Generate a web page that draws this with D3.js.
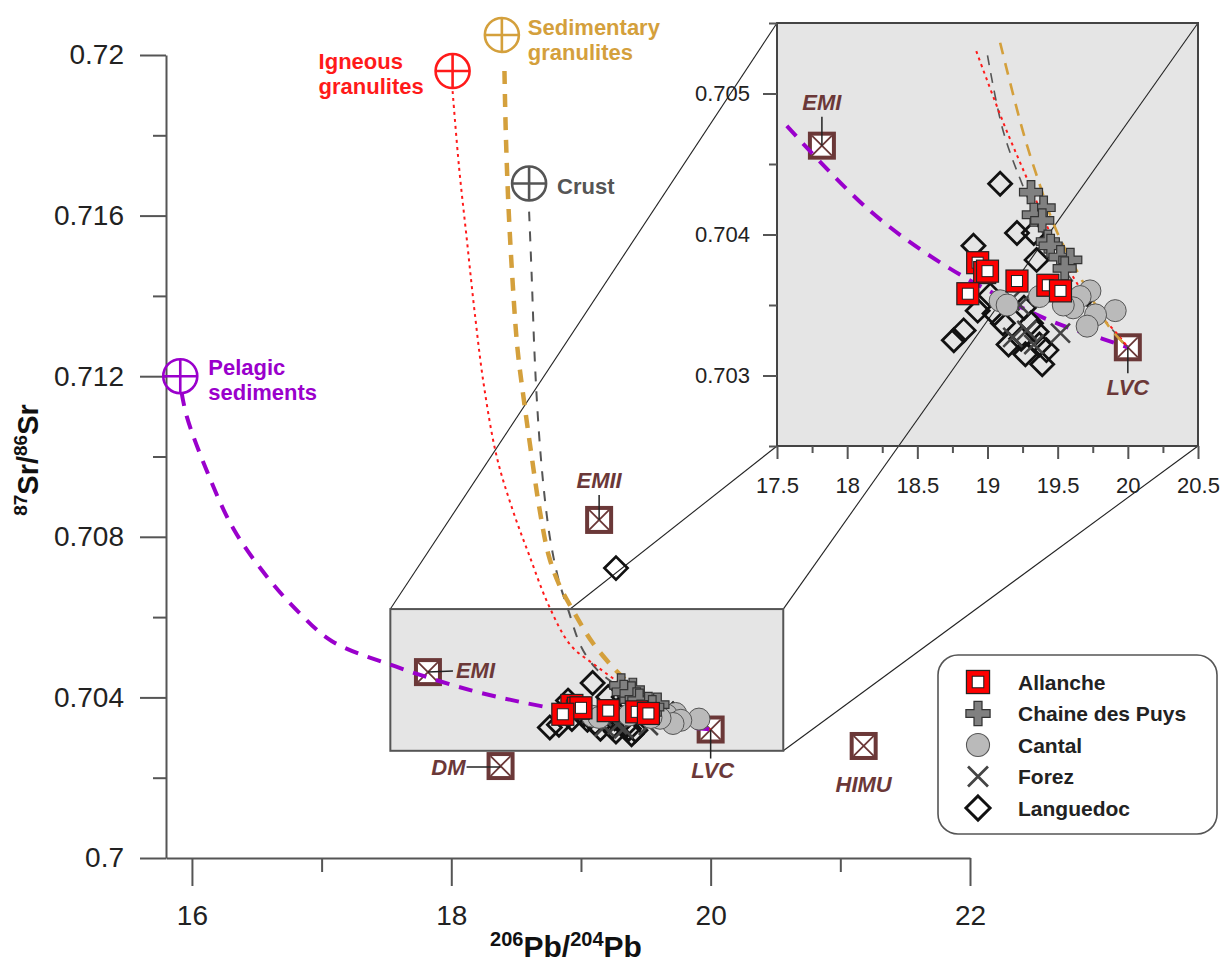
<!DOCTYPE html>
<html><head><meta charset="utf-8">
<script src="https://cdn.jsdelivr.net/npm/d3@7"></script>
<style>
body{margin:0;background:#fff}
text{font-family:"Liberation Sans",Arial,Helvetica,sans-serif}
</style>
</head><body><script>
// ---- data ----
// samples: [206Pb/204Pb, 87Sr/86Sr]
const allanche = [[18.93,0.7038],[18.98,0.70373],[19.0,0.70374],[18.86,0.70358],[19.21,0.70367],[19.43,0.70364],[19.52,0.7036]]
const chaine = [[19.31,0.7043],[19.40,0.70419],[19.33,0.70414],[19.39,0.7041],[19.43,0.70395],[19.45,0.70392],[19.52,0.70384],[19.59,0.70382],[19.55,0.70376]]
const cantal = [[19.73,0.7036],[19.66,0.70356],[19.91,0.70346],[19.77,0.70343],[19.71,0.70335],[19.61,0.70348],[19.54,0.7035],[19.37,0.70356],[19.09,0.70353],[19.14,0.7035]]
const forez = [[19.52,0.7033],[19.18,0.70327],[19.28,0.70332],[19.33,0.70322],[19.16,0.70353],[19.23,0.7035]]
const languedoc = [[19.09,0.70436],[19.21,0.70401],[19.33,0.70401],[19.35,0.70382],[18.90,0.70392],[18.76,0.70325],[18.83,0.70332],
	[18.93,0.70346],[19.02,0.70357],[19.11,0.70337],[19.05,0.70344],[19.15,0.70322],[19.24,0.70326],[19.27,0.70315],[19.31,0.70337],
	[19.39,0.70308],[19.37,0.70322],[19.42,0.70318],[19.26,0.70348],[19.35,0.70331],[19.71,0.70358],[19.27,0.70722]]

// mantle end-members
const endMembers = [["EMII",19.14,0.70842],["EMI",17.82,0.70463],["DM",18.38,0.70229],["LVC",20.0,0.7032],["HIMU",21.18,0.70279]]
// contaminant sources
const sources = [["Pelagic sediments",15.91,0.712],["Igneous granulites",18.01,0.7196],["Sedimentary granulites",18.39,0.7205],["Crust",18.6,0.7168]]

// mixing curves towards LVC
const pelagicCurve = [[15.92,0.7116],[15.96,0.7110],[16.12,0.7096],[16.32,0.7082],[16.58,0.7070],[16.83,0.7061],[17.08,0.7054],[17.57,0.70477],[18.16,0.70417],[18.73,0.70376],[19.42,0.7034],[19.82,0.70326],[20.0,0.7032]]
const igneousCurve = [[18.01,0.7191],[18.06,0.7172],[18.12,0.7154],[18.18,0.7136],[18.25,0.7118],[18.35,0.7100],[18.47,0.7087],[18.60,0.70755],[18.75,0.7063],[18.92,0.7053],[19.11,0.7048],[19.28,0.7044],[19.5,0.7039],[19.74,0.7035],[19.92,0.7033],[20.0,0.7032]]
const sedimentaryCurve = [[18.41,0.7196],[18.42,0.7181],[18.44,0.7163],[18.47,0.7145],[18.51,0.7127],[18.56,0.7114],[18.62,0.7100],[18.68,0.7087],[18.75,0.70755],[18.83,0.70682],[18.95,0.7061],[19.09,0.70536],[19.25,0.70474],[19.35,0.70442],[19.49,0.70403],[19.66,0.7037],[19.87,0.70334],[20.0,0.7032]]
const crustCurve = [[18.60,0.7161],[18.62,0.7145],[18.64,0.7127],[18.66,0.7114],[18.69,0.7100],[18.73,0.7087],[18.77,0.7078],[18.83,0.7069],[18.9,0.7062],[19.0,0.70527],[19.11,0.70474],[19.25,0.70435],[19.45,0.7039],[19.7,0.70355],[20.0,0.7032]]

// ticks
const xMajor = [16,18,20,22], xMinor = [17,19,21]
const yMajor = [0.7,0.704,0.708,0.712,0.716,0.72], yMinor = [0.702,0.706,0.71,0.714,0.718]
const ixMajor = [17.5,18,18.5,19,19.5,20,20.5], ixMinor = [17.75,18.25,18.75,19.25,19.75,20.25]
const iyMajor = [0.703,0.704,0.705], iyMinor = [0.7025,0.7035,0.7045,0.7055]
// zoomed area in the main plot [x0,x1,y0,y1]
const zoomBox = [17.53,20.56,0.70267,0.7062]
const legendNames = ["Allanche","Chaine des Puys","Cantal","Forez","Languedoc"]

// ---- layout ----
const width = 1223, height = 967
const brown = "#6b3838"
const srcColor = {"Pelagic sediments":"#9a00cc","Igneous granulites":"#ff1a1a","Sedimentary granulites":"#d4a03c","Crust":"#555"}

const x = d3.scaleLinear().domain([15.8,22]).range([166,970])
const y = d3.scaleLinear().domain([0.7,0.72]).range([858,55])
const ix = d3.scaleLinear().domain([17.5,20.5]).range([777,1198])
const iy = d3.scaleLinear().domain([0.7025,0.7055]).range([446,23])

const svg = d3.select("body").append("svg")
	.attr("width", width).attr("height", height)
	.attr("viewBox", [0, 0, width, height])

// inset background
svg.append("rect")
	.attr("x", ix(17.5)).attr("y", iy(0.7055))
	.attr("width", ix(20.5) - ix(17.5)).attr("height", iy(0.7025) - iy(0.7055))
	.attr("fill", "#e5e5e5")

// connector lines between zoom box and inset
const conn = [
	[[zoomBox[0],zoomBox[3]],[17.5,0.7055]],
	[[zoomBox[1],zoomBox[3]],[20.5,0.7055]],
	[[zoomBox[1],zoomBox[2]],[20.5,0.7025]],
	[[zoomBox[0],zoomBox[2]],[17.5,0.7025]]
]
svg.append("g").selectAll("line").data(conn).join("line")
	.attr("x1", d => x(d[0][0])).attr("y1", d => y(d[0][1]))
	.attr("x2", d => ix(d[1][0])).attr("y2", d => iy(d[1][1]))
	.attr("stroke", "#222").attr("stroke-width", 1.1)

// zoom box in main plot
svg.append("rect")
	.attr("x", x(zoomBox[0])).attr("y", y(zoomBox[3]))
	.attr("width", x(zoomBox[1]) - x(zoomBox[0])).attr("height", y(zoomBox[2]) - y(zoomBox[3]))
	.attr("fill", "#e5e5e5").attr("stroke", "#555").attr("stroke-width", 2)

// inset frame
svg.append("rect")
	.attr("x", ix(17.5)).attr("y", iy(0.7055))
	.attr("width", ix(20.5) - ix(17.5)).attr("height", iy(0.7025) - iy(0.7055))
	.attr("fill", "none").attr("stroke", "#444").attr("stroke-width", 2)

// ---- axes ----
function styleAxis(g, fs) {
	g.select(".domain").attr("stroke", "#555").attr("stroke-width", 2)
	g.selectAll(".tick line").attr("stroke", "#555").attr("stroke-width", 2)
	g.selectAll(".tick text").attr("fill", "#222").attr("font-size", fs)
		.attr("font-family", '"Liberation Sans",Arial,sans-serif')
}
const fmt = d3.format("~g")

svg.append("g").attr("transform", `translate(0,${y(0.7)})`)
	.call(d3.axisBottom(x).tickValues(xMajor).tickSize(28).tickSizeOuter(0).tickPadding(19).tickFormat(fmt))
	.call(g => styleAxis(g, 28))
svg.append("g").attr("transform", `translate(0,${y(0.7)})`)
	.call(d3.axisBottom(x).tickValues(xMinor).tickSize(14).tickSizeOuter(0).tickFormat(""))
	.call(g => { styleAxis(g, 0); g.select(".domain").remove() })
svg.append("g").attr("transform", `translate(${x(15.8)},0)`)
	.call(d3.axisLeft(y).tickValues(yMajor).tickSize(26).tickSizeOuter(0).tickPadding(16).tickFormat(fmt))
	.call(g => styleAxis(g, 28))
svg.append("g").attr("transform", `translate(${x(15.8)},0)`)
	.call(d3.axisLeft(y).tickValues(yMinor).tickSize(13).tickSizeOuter(0).tickFormat(""))
	.call(g => { styleAxis(g, 0); g.select(".domain").remove() })

// inset axes
svg.append("g").attr("transform", `translate(0,${iy(0.7025)})`)
	.call(d3.axisBottom(ix).tickValues(ixMajor).tickSize(13).tickSizeOuter(0).tickPadding(18).tickFormat(fmt))
	.call(g => { styleAxis(g, 22); g.select(".domain").remove() })
svg.append("g").attr("transform", `translate(0,${iy(0.7025)})`)
	.call(d3.axisBottom(ix).tickValues(ixMinor).tickSize(7).tickFormat(""))
	.call(g => { styleAxis(g, 0); g.select(".domain").remove() })
svg.append("g").attr("transform", `translate(${ix(17.5)},0)`)
	.call(d3.axisLeft(iy).tickValues(iyMajor).tickSize(14).tickSizeOuter(0).tickPadding(13).tickFormat(fmt))
	.call(g => { styleAxis(g, 22); g.select(".domain").remove() })
svg.append("g").attr("transform", `translate(${ix(17.5)},0)`)
	.call(d3.axisLeft(iy).tickValues(iyMinor).tickSize(8).tickFormat(""))
	.call(g => { styleAxis(g, 0); g.select(".domain").remove() })

// axis titles
const xt = svg.append("text").attr("x", 566).attr("y", 957).attr("text-anchor", "middle")
	.attr("font-weight", "bold").attr("font-size", 30).attr("fill", "#111")
xt.append("tspan").attr("font-size", 20).attr("dy", -11).text("206")
xt.append("tspan").attr("dy", 11).text("Pb/")
xt.append("tspan").attr("font-size", 20).attr("dy", -11).text("204")
xt.append("tspan").attr("dy", 11).text("Pb")

const yt = svg.append("text").attr("transform", "translate(38,460) rotate(-90)").attr("text-anchor", "middle")
	.attr("font-weight", "bold").attr("font-size", 29).attr("fill", "#111")
yt.append("tspan").attr("font-size", 19).attr("dy", -11).text("87")
yt.append("tspan").attr("dy", 11).text("Sr/")
yt.append("tspan").attr("font-size", 19).attr("dy", -11).text("86")
yt.append("tspan").attr("dy", 11).text("Sr")

// clip for inset
svg.append("clipPath").attr("id", "insetClip").append("rect")
	.attr("x", ix(17.5)).attr("y", iy(0.7055))
	.attr("width", ix(20.5) - ix(17.5)).attr("height", iy(0.7025) - iy(0.7055))

// ---- markers ----
function emMarker(g, name, cx, cy) {
	const m = g.append("g").attr("transform", `translate(${cx},${cy})`)
	m.append("rect").attr("x", -12).attr("y", -12).attr("width", 24).attr("height", 24)
		.attr("fill", "#fff").attr("stroke", brown).attr("stroke-width", 4)
	m.append("path").attr("d", "M-10,-10L10,10M-10,10L10,-10").attr("stroke", brown).attr("stroke-width", 1.8)
}
function srcMarker(g, col, cx, cy) {
	const m = g.append("g").attr("transform", `translate(${cx},${cy})`)
	m.append("circle").attr("r", 17).attr("fill", "none").attr("stroke", col).attr("stroke-width", 2.6)
	m.append("path").attr("d", "M-17,0H17M0,-17V17").attr("stroke", col).attr("stroke-width", 2.6)
}
function sample(g, type, cx, cy, k = 1) {
	const m = g.append("g").attr("transform", `translate(${cx},${cy}) scale(${k})`)
	if (type === "Allanche") {
		m.append("rect").attr("x", -11).attr("y", -11).attr("width", 22).attr("height", 22)
			.attr("fill", "#ff0000").attr("stroke", "#222").attr("stroke-width", 1.2)
		m.append("rect").attr("x", -5.5).attr("y", -5.5).attr("width", 11).attr("height", 11)
			.attr("fill", "#fff").attr("stroke", "#222").attr("stroke-width", 1)
	} else if (type === "Chaine des Puys") {
		const a = 3.8, b = 11.5
		m.append("path").attr("d", `M${-a},${-b}H${a}V${-a}H${b}V${a}H${a}V${b}H${-a}V${a}H${-b}V${-a}H${-a}Z`)
			.attr("fill", "#808080").attr("stroke", "#333").attr("stroke-width", 1.2)
	} else if (type === "Cantal") {
		m.append("circle").attr("r", 11).attr("fill", "#bababa").attr("stroke", "#555").attr("stroke-width", 1)
	} else if (type === "Forez") {
		m.append("path").attr("d", "M-9.5,-9.5L9.5,9.5M-9.5,9.5L9.5,-9.5").attr("stroke", "#444").attr("stroke-width", 2.6)
	} else {
		m.append("path").attr("d", "M0,-11.5L11.5,0L0,11.5L-11.5,0Z").attr("fill", k > 1 ? "#fff" : "none")
			.attr("stroke", "#111").attr("stroke-width", 2.8)
	}
}
const groups = [["Languedoc", languedoc], ["Forez", forez], ["Cantal", cantal], ["Chaine des Puys", chaine], ["Allanche", allanche]]

const curves = [
	{pts: pelagicCurve, col: srcColor["Pelagic sediments"], w: 4, dash: "14,10", iw: 4, idash: "14,10", itop: 0.7049},
	{pts: crustCurve, col: "#555", w: 2, dash: "10,10", iw: 1.6, idash: "10,8", itop: 0.70527},
	{pts: igneousCurve, col: "#ff1a1a", w: 2, dash: "3,4", iw: 2, idash: "3,4", itop: 0.70534},
	{pts: sedimentaryCurve, col: srcColor["Sedimentary granulites"], w: 4.5, dash: "13,10", iw: 2.6, idash: "12,9", itop: 0.70537}
]

function drawPlot(g, sx, sy, inset) {
	// end-members under curves
	endMembers.forEach(([n, a, b]) => {
		if (inset && (n !== "EMI" && n !== "LVC")) return
		emMarker(g, n, sx(a), sy(b))
	})
	const line = d3.line().x(d => sx(d[0])).y(d => sy(d[1])).curve(d3.curveCatmullRom)
	curves.forEach(c => {
		const pts = inset ? c.pts.filter(d => d[1] <= c.itop) : c.pts
		g.append("path").attr("d", line(pts)).attr("fill", "none").attr("stroke", c.col)
			.attr("stroke-width", inset ? c.iw : c.w).attr("stroke-dasharray", inset ? c.idash : c.dash)
	})
	groups.forEach(([n, arr]) => arr.forEach(d => sample(g, n, sx(d[0]), sy(d[1]))))
}

const mainG = svg.append("g")
drawPlot(mainG, x, y, false)
const insetG = svg.append("g").attr("clip-path", "url(#insetClip)")
drawPlot(insetG, ix, iy, true)

// ---- end-member labels ----
function emLabel(px, py, txt, anchor, tx, ty, lx1, ly1, lx2, ly2) {
	svg.append("line").attr("x1", px + lx1).attr("y1", py + ly1).attr("x2", px + lx2).attr("y2", py + ly2)
		.attr("stroke", "#222").attr("stroke-width", 1.5)
	svg.append("text").attr("x", px + tx).attr("y", py + ty).attr("text-anchor", anchor)
		.attr("font-size", 22).attr("font-weight", "bold").attr("font-style", "italic").attr("fill", brown).text(txt)
}
const em = Object.fromEntries(endMembers.map(d => [d[0], [d[1], d[2]]]))
emLabel(x(em.EMII[0]), y(em.EMII[1]), "EMII", "middle", 0, -32, 0, -25, 0, 0)
emLabel(x(em.EMI[0]), y(em.EMI[1]), "EMI", "start", 28, 6, 0, 0, 25, -1)
emLabel(x(em.DM[0]), y(em.DM[1]), "DM", "end", -35, 9, -34, 1, 0, 1)
emLabel(x(em.LVC[0]), y(em.LVC[1]), "LVC", "middle", 2, 48, 0, 0, 0, 29)
emLabel(x(em.HIMU[0]), y(em.HIMU[1]), "HIMU", "middle", 0, 46, 0, 0, 0, 0)
emLabel(ix(em.EMI[0]), iy(em.EMI[1]), "EMI", "middle", 0, -36, 0, -29, 0, 0)
emLabel(ix(em.LVC[0]), iy(em.LVC[1]), "LVC", "middle", 0, 48, 0, 0, 0, 26)

// ---- source markers & labels ----
const srcLabelPos = {
	"Pelagic sediments": [28, -1, "start"],
	"Igneous granulites": [-134, -2, "start"],
	"Sedimentary granulites": [26, 0, "start"],
	"Crust": [28, 11, "start"]
}
sources.forEach(([n, a, b]) => {
	const px = x(a), py = y(b), col = srcColor[n]
	srcMarker(svg, col, px, py)
	const [dx, dy, anc] = srcLabelPos[n]
	const words = n === "Crust" ? [n] : n.split(" ")
	const t = svg.append("text").attr("x", px + dx).attr("y", py + dy).attr("text-anchor", anc)
		.attr("font-size", 22).attr("font-weight", "bold").attr("fill", col)
	words.forEach((w, i) => t.append("tspan").attr("x", px + dx).attr("dy", i ? 25 : 0).text(w))
})

// ---- legend ----
const lg = svg.append("g")
lg.append("rect").attr("x", 938).attr("y", 655).attr("width", 279).attr("height", 179).attr("rx", 20)
	.attr("fill", "#fff").attr("stroke", "#555").attr("stroke-width", 1.6)
legendNames.forEach((n, i) => {
	const cy = 682 + i * 31.5
	sample(lg, n, 978, cy, 1.05)
	lg.append("text").attr("x", 1018).attr("y", cy + 7.5).attr("font-size", 21).attr("font-weight", "bold")
		.attr("fill", "#222").text(n)
})
</script></body></html>
